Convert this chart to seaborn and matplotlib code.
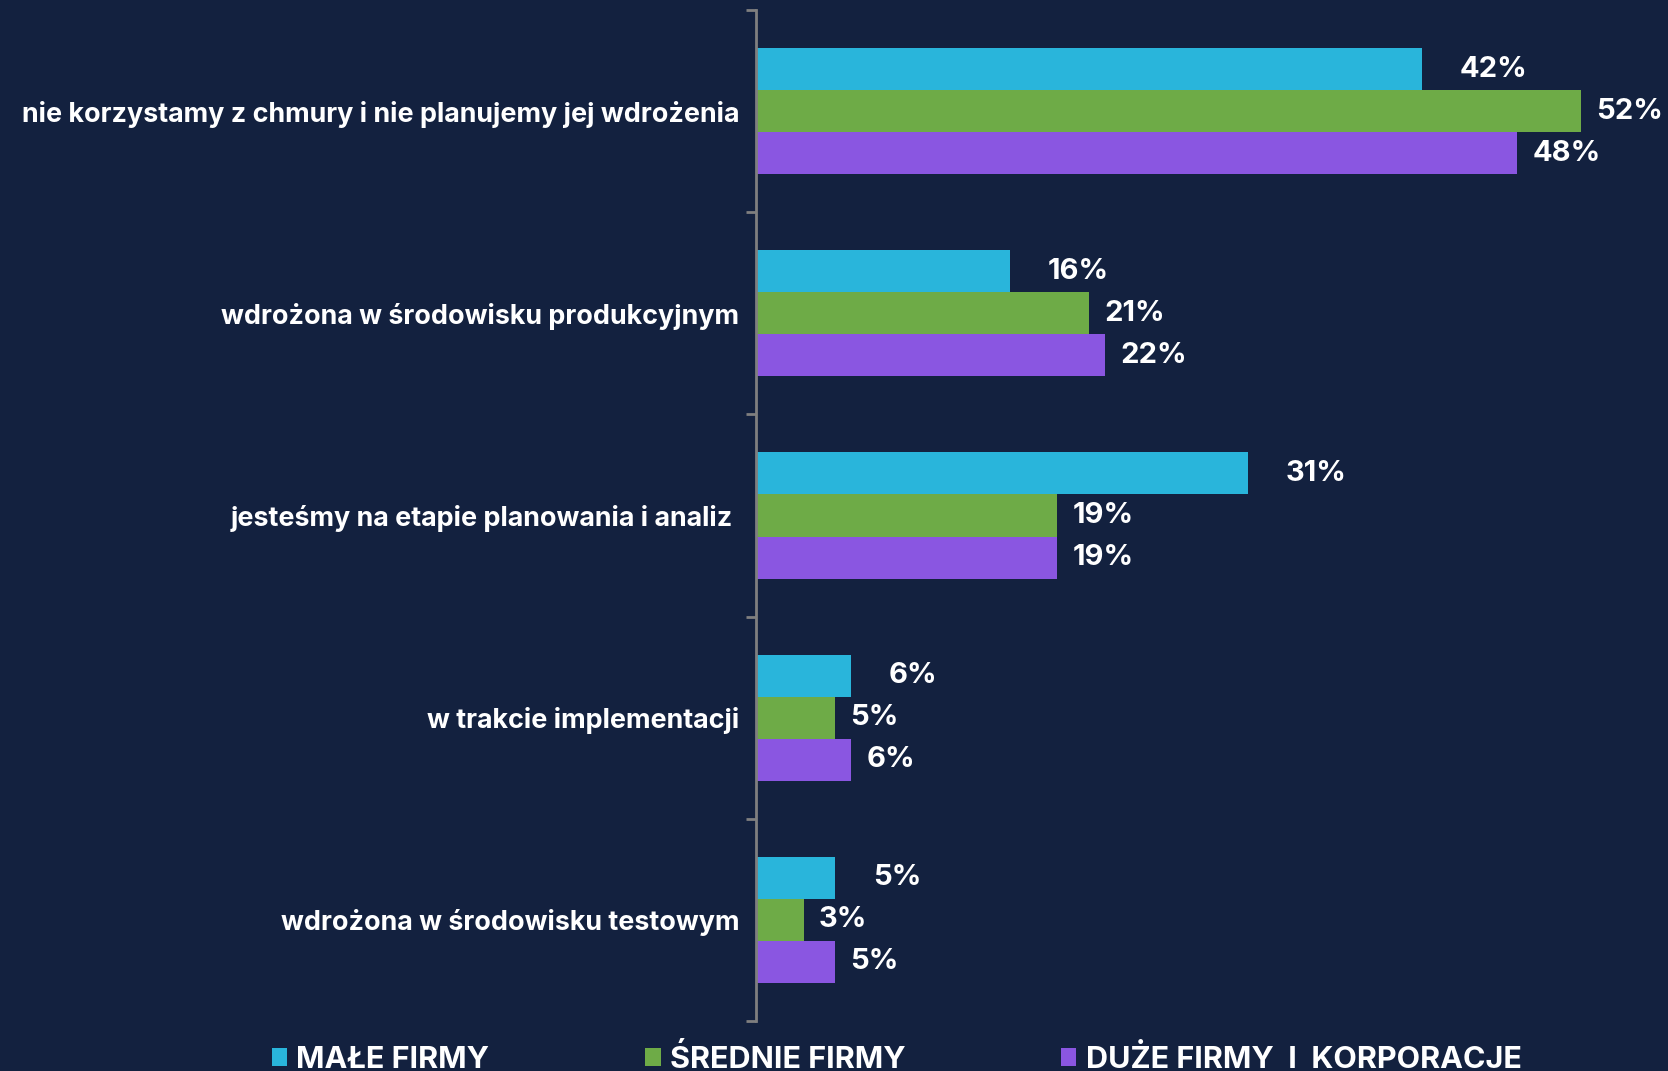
import numpy as np
import pandas as pd
import matplotlib
matplotlib.use('Agg')
import matplotlib.pyplot as plt
import seaborn as sns

categories = [
    'nie korzystamy z chmury i nie planujemy jej wdrożenia',
    'wdrożona w środowisku produkcyjnym',
    'jesteśmy na etapie planowania i analiz ',
    'w trakcie implementacji',
    'wdrożona w środowisku testowym',
]
series = ['MAŁE FIRMY', 'ŚREDNIE FIRMY', 'DUŻE FIRMY  I  KORPORACJE']
male = [42, 16, 31, 6, 5]
srednie = [52, 21, 19, 5, 3]
duze = [48, 22, 19, 6, 5]
colors = ['#29B5DB', '#6EAB47', '#8A56E1']
bg = '#13213F'

df = pd.DataFrame({
    'kategoria': categories * 3,
    'grupa': [s for s in series for _ in categories],
    'wartosc': male + srednie + duze,
})

sns.set_theme(style='white')
plt.rcParams['font.family'] = ['Inter', 'Lato', 'DejaVu Sans']
plt.rcParams['font.weight'] = 'bold'

fig = plt.figure(figsize=(16.68, 10.71), dpi=100, facecolor=bg)
ax = fig.add_axes([756 / 1668, 1 - 1021 / 1071, 1 - 756 / 1668, 1011 / 1071])
ax.set_facecolor(bg)

sns.barplot(data=df, y='kategoria', x='wartosc', hue='grupa', order=categories,
            hue_order=series, palette=colors, orient='h', width=0.624, gap=0,
            saturation=1, linewidth=0, ax=ax)

ax.set_xlim(0, 57.5)
ax.set_ylim(len(categories) - 0.5, -0.5)
ax.set_xlabel('')
ax.set_ylabel('')
ax.set_xticks([])

for s in ['top', 'right', 'bottom']:
    ax.spines[s].set_visible(False)
ax.spines['left'].set_color('#7f7f7f')
ax.spines['left'].set_linewidth(2)

ax.set_yticks(np.arange(len(categories)))
ax.set_yticklabels(categories, fontsize=19.4, fontweight='bold', color='white')
ax.tick_params(axis='y', which='major', left=True, length=0, pad=12)
ax.set_yticks(np.arange(-0.5, len(categories)), minor=True)
ax.tick_params(axis='y', which='minor', left=True, length=7, width=2,
               color='#7f7f7f', direction='out')

pads = [27, 11, 11]
for cont, pad in zip(ax.containers, pads):
    ax.bar_label(cont, labels=[f'{v:.0f}%' for v in cont.datavalues], padding=pad,
                 fontsize=21, fontweight='bold', color='white')

sns.move_legend(ax, loc='center left', bbox_to_anchor=(272 / 1668, 1 - 1059 / 1071),
                bbox_transform=fig.transFigure, ncol=3, frameon=False, title=None,
                handlelength=0.5, handleheight=0.5, handletextpad=0.3,
                columnspacing=5.1, borderpad=0, borderaxespad=0,
                fontsize=22)
for t in ax.get_legend().get_texts():
    t.set_color('white')
    t.set_fontweight('bold')

fig.savefig('out.png', dpi=100, facecolor=bg)
